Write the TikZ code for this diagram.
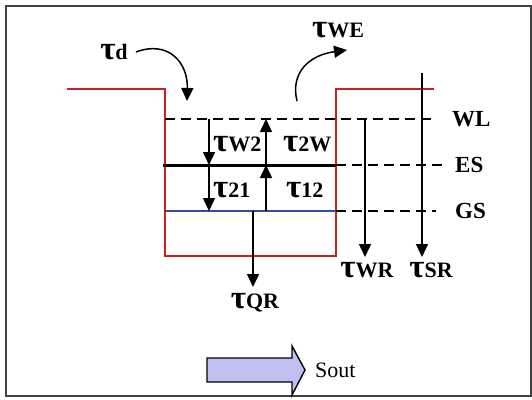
\documentclass[tikz,border=0pt]{standalone}
\usepackage{fontspec}
\setmainfont{Liberation Serif}
\usetikzlibrary{arrows.meta}
\definecolor{wellred}{RGB}{204,30,30}
\definecolor{gsblue}{RGB}{50,80,150}
\definecolor{soutfill}{RGB}{192,192,240}
\newcommand{\taulab}[1]{{\fontsize{33}{33}\selectfont\bfseries τ}{\fontsize{22}{22}\selectfont\bfseries #1}}
\newcommand{\lvlfont}{\fontsize{23}{23}\selectfont\bfseries}
\begin{document}
\begin{tikzpicture}[x=1pt, y=-1pt, every node/.style={inner sep=0pt},
  arr/.style={-{Triangle[length=13pt,width=12pt]}, line width=1.5pt},
  level/.style={dash pattern=on 10pt off 6pt, line width=1.4pt}]
\useasboundingbox (0,0) rectangle (532,399);
\draw[line width=1.5pt, black!75] (6,6) rectangle (531,396);
% quantum well
\draw[wellred, line width=1.4pt] (67,89) -- (165,89) -- (165,256) -- (336,256) -- (336,89) -- (434,89);
% levels
\draw[level] (165,119) -- (436,119);
\draw[line width=3pt] (163,165) -- (336,165);
\draw[level] (336,165) -- (444,165);
\draw[gsblue, line width=1.4pt] (165,211) -- (336,211);
\draw[level] (336,211) -- (436,211);
\node[anchor=west] (wl) at (452,119) {\lvlfont WL};
\node[anchor=west] (es) at (455,165) {\lvlfont ES};
\node[anchor=west] (gs) at (455,211) {\lvlfont GS};
% named points on the levels
\coordinate (wlA) at (209,119);
\coordinate (esA) at (209,165);
\coordinate (gsA) at (209,211);
\coordinate (wlB) at (266,119);
\coordinate (esB) at (266,165);
\coordinate (gsB) at (266,211);
\coordinate (gsQ) at (253,211);
\coordinate (qrEnd) at (253,287);
\coordinate (wlW) at (365,119);
\coordinate (wrEnd) at (365,257);
\coordinate (srTop) at (422,73);
\coordinate (srEnd) at (422,257);
% transitions
\draw[arr] (wlA) -- (esA);
\draw[arr] (esA) -- (gsA);
\draw[arr] (esB) -- (wlB);
\draw[arr] (gsB) -- (esB);
\draw[arr] (gsQ) -- (qrEnd);
\draw[arr] (wlW) -- (wrEnd);
\draw[arr] (srTop) -- (srEnd);
\node[anchor=west] (tw2) at (213,144) {\taulab{W2}};
\node[anchor=west] (t2w) at (283,144) {\taulab{2W}};
\node[anchor=west] (t21) at (213,190) {\taulab{21}};
\node[anchor=west] (t12) at (286,190) {\taulab{12}};
\node (tqr) at (255,303) {\taulab{QR}};
\node (twr) at (367,270) {\taulab{WR}};
\node (tsr) at (431,270) {\taulab{SR}};
% capture and escape
\node (td) at (114,52) {\taulab{d}};
\coordinate (tdEnd) at (187,101);
\draw[arr] (td.east) ++(8,0) .. controls (168,40) and (188,62) .. (tdEnd);
\node (twe) at (338,30) {\taulab{WE}};
\coordinate (weStart) at (297,101);
\draw[arr] (weStart) .. controls (290,72) and (310,55) .. (347,50);
% output
\draw[line width=1.4pt, fill=soutfill] (207,358) -- (292,358) -- (292,346) -- (305,370)
  -- (292,395) -- (292,382) -- (207,382) -- cycle;
\node[anchor=west] (sout) at (315,370) {\fontsize{22}{22}\selectfont Sout};
\end{tikzpicture}
\end{document}
